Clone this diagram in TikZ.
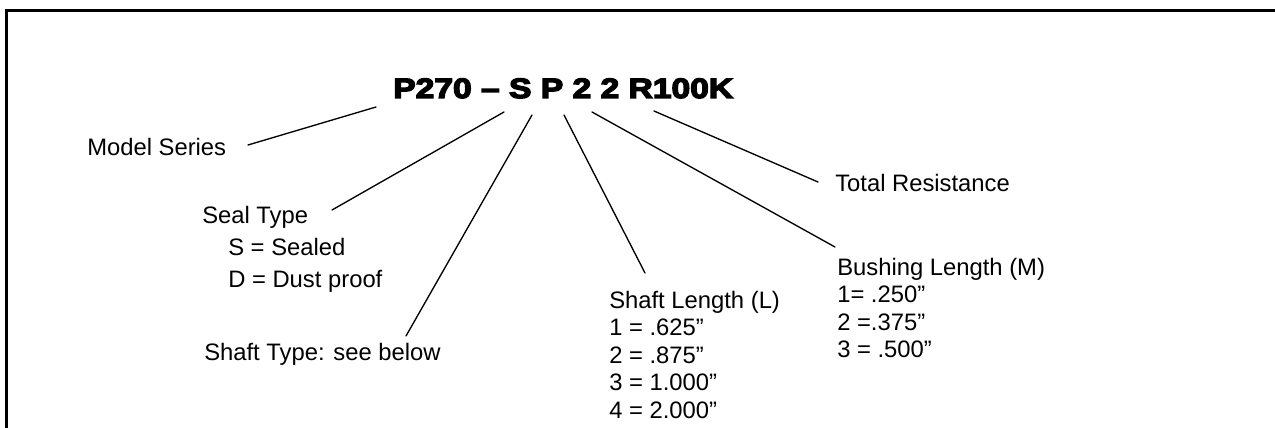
\documentclass[tikz,border=0pt]{standalone}
\usepackage{fontspec}
\setmainfont{Liberation Sans}
\newfontface\heavyfont{Liberation Sans Bold}[FakeBold=5,FakeStretch=1.2]
\begin{document}
\begin{tikzpicture}[x=0.75pt,y=-0.75pt,
  lbl/.style={anchor=base west,inner sep=0pt,font=\fontsize{17.85}{20}\selectfont},
  ttl/.style={anchor=base west,inner sep=0pt,font=\heavyfont\fontsize{21}{24}\selectfont},
  conn/.style={line width=1pt,line cap=round},
  frame/.style={line width=2pt}]
\useasboundingbox (0,0) rectangle (1275,428);
\draw[frame] (6.5,440) -- (6.5,10.5) -- (1290,10.5);
% title
\node[ttl] (title) at (393,98) {P270 – S P 2 2 R100K};
% labels
\node[lbl] (ms) at (87,155) {Model Series};
\node[lbl] (st) at (202,223) {Seal Type};
\node[lbl] (st1) at (228,255) {S = Sealed};
\node[lbl] (st2) at (228,287) {D = Dust proof};
\node[lbl] (sht) at (204,360) {Shaft Type: see below};
\node[lbl] (sl) at (609,308) {Shaft Length (L)};
\node[lbl] (sl1) at (609,335.5) {1 = .625”};
\node[lbl] (sl2) at (609,363) {2 = .875”};
\node[lbl] (sl3) at (609,390.5) {3 = 1.000”};
\node[lbl] (sl4) at (609,418) {4 = 2.000”};
\node[lbl] (bl) at (837,275) {Bushing Length (M)};
\node[lbl] (bl1) at (837,302.5) {1= .250”};
\node[lbl] (bl2) at (837,330) {2 =.375”};
\node[lbl] (bl3) at (837,357.5) {3 = .500”};
\node[lbl] (tr) at (835,191) {Total Resistance};
% connector ends
\coordinate (a1) at (376,107); \coordinate (b1) at (248,145);
\coordinate (a2) at (504,112); \coordinate (b2) at (332,210);
\coordinate (a3) at (532,115); \coordinate (b3) at (406,336);
\coordinate (a4) at (564,115); \coordinate (b4) at (645,273);
\coordinate (a5) at (592,112); \coordinate (b5) at (835,247);
\coordinate (a6) at (654,111); \coordinate (b6) at (818,182);
\draw[conn] (a1) -- (b1);
\draw[conn] (a2) -- (b2);
\draw[conn] (a3) -- (b3);
\draw[conn] (a4) -- (b4);
\draw[conn] (a5) -- (b5);
\draw[conn] (a6) -- (b6);
\end{tikzpicture}
\end{document}
